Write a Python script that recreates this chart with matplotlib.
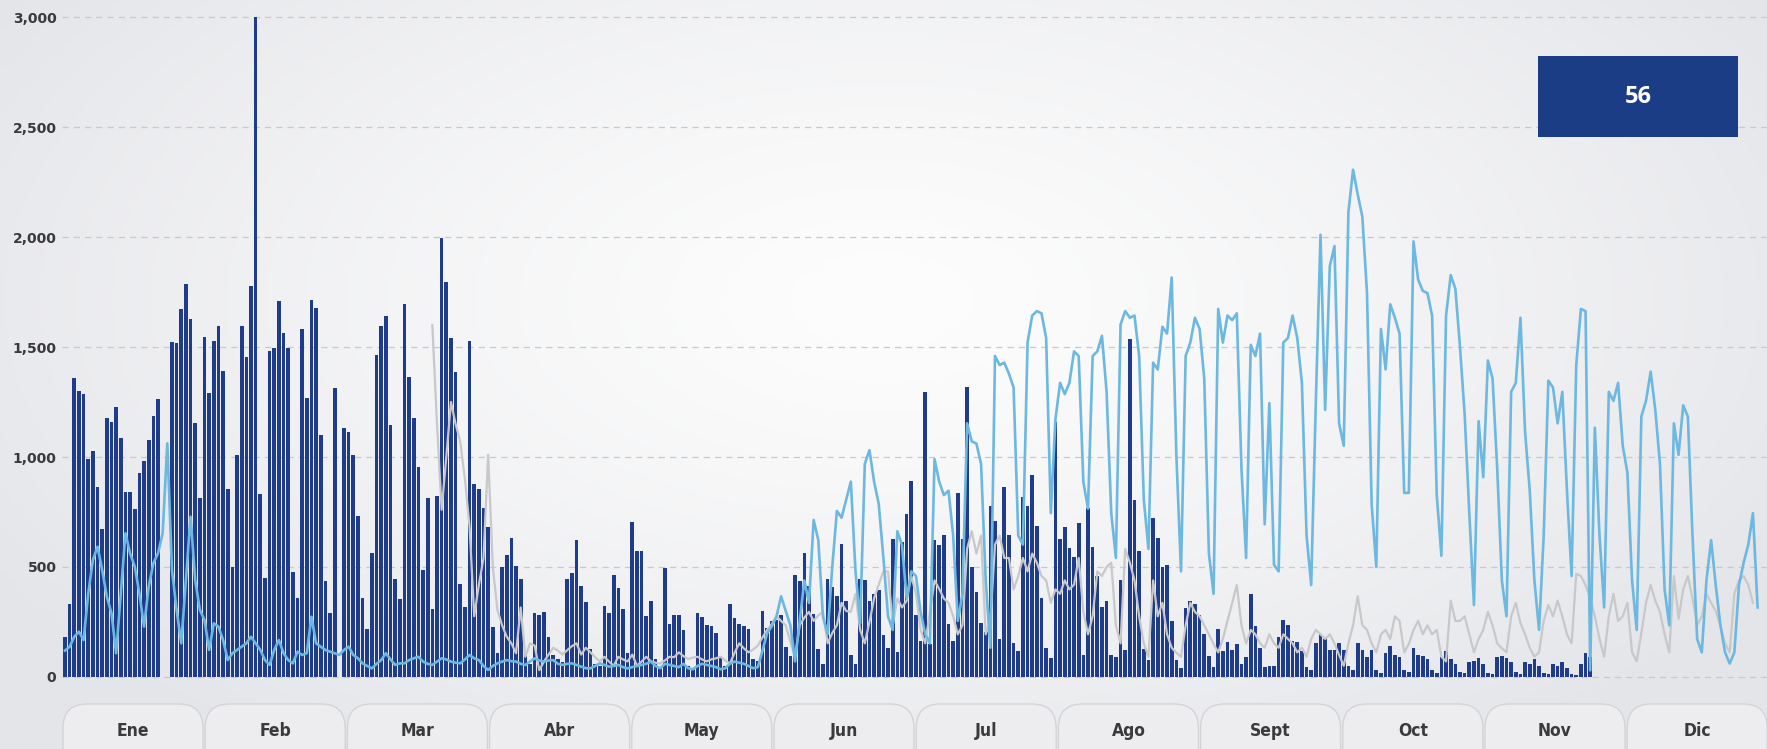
import numpy as np
import matplotlib as mpl

mpl.use("Agg")
import matplotlib.pyplot as plt
from matplotlib.patches import FancyBboxPatch, Rectangle

W, H = 1767, 749
DPI = 100

MONTHS = ["Ene", "Feb", "Mar", "Abr", "May", "Jun",
          "Jul", "Ago", "Sept", "Oct", "Nov", "Dic"]
Y_TICKS = [0, 500, 1000, 1500, 2000, 2500, 3000]
BADGE_TEXT = "56"

# daily bars, day 0 = 1 Jan
DAILY_BARS = [
    183, 330, 1358, 1302, 1286, 991, 1029, 865, 671, 1176, 1161, 1226, 1088, 839, 839, 764, 926, 982, 1077, 1186, 1265,
    0, 0,
    1524, 1520, 1671, 1785, 1627, 1153, 815, 1544, 1289, 1527, 1595, 1391, 853, 498, 1009, 1597, 1453, 1779, 3000, 832,
    448, 1483, 1497, 1711, 1562, 1497, 476, 361, 1580, 1267, 1714, 1676, 1100, 436, 289, 1315,
    0,
    1133, 1112, 1009, 733, 361, 217, 562, 1464, 1597, 1641, 1145, 445, 355, 1694, 1365, 1176, 956, 486, 815, 308,
    824, 1995, 1794, 1539, 1385, 421, 320, 1527, 877, 853, 767, 683, 229, 108, 502, 555, 630, 506, 445, 115,
    60, 289, 282, 297, 183, 100, 80, 70, 445, 474, 623, 414, 339, 126, 60, 50, 323, 289, 464, 403, 308, 108, 703, 573,
    571, 276, 347, 82, 40, 496, 241, 280, 280, 214, 51, 40, 292, 271, 235, 231, 198, 88, 51, 331, 269, 239, 231, 218,
    82, 71, 302, 224, 255, 259, 280, 137, 96, 463, 435, 565, 414, 286, 129, 61, 445, 408, 367, 606, 347, 102, 61, 445,
    439, 347, 378, 394, 190, 133,
    627, 112, 612, 739, 892, 280, 163, 1296, 149, 622, 598, 647, 239, 163, 837, 627, 1316, 500, 388, 245, 204, 776,
    708, 173, 863, 647, 153, 118, 816, 776, 918, 688, 361, 133, 88, 1157, 627, 684, 586, 547, 700, 102, 769, 592, 459,
    320, 347, 102, 92,
    443, 122, 1537, 806, 571, 129, 76, 724, 633, 500, 510, 255, 76, 41, 312, 347, 333, 280, 194, 96, 47, 218, 116, 159,
    122, 149, 61, 92, 378, 231, 133, 47, 51, 51, 184, 259, 235, 163, 159, 116, 47, 31, 153, 194, 173, 122, 122,
    153, 122, 51, 31, 153, 122, 92, 122, 31, 20, 110, 140, 100, 90, 30, 25, 130, 100, 95, 80, 30, 20, 90, 120, 80, 60,
    25, 20, 70, 75, 85, 60, 20, 15, 90, 95, 85, 70, 25, 15, 70, 60, 80, 50, 20, 15, 60, 50, 70, 40, 15, 10, 60, 110, 90,
]

# light blue line, full year
LIGHT_LINE = [
    120, 138, 183, 206, 168, 380, 532, 592, 486, 365, 289, 108, 380, 653, 562, 502, 380, 229, 411, 517, 562, 653,
    1062, 486, 305, 153, 441, 729, 441, 305, 259, 123, 244, 229, 168, 77, 108, 123, 138, 153, 183, 153, 123, 77, 55,
    123, 168, 108, 77, 62, 115, 100, 108, 274, 153, 138, 123, 115, 108, 100, 123,
    138, 100, 85, 62, 50, 39, 60, 77, 108, 80, 55, 62, 62, 77, 85, 92, 70, 60, 55, 70, 85, 80, 70, 65, 62, 80, 100,
    85, 77, 50, 32, 50, 62, 70, 77, 72, 70, 60, 55, 70, 85, 75, 70, 75, 77, 60, 55, 60, 62, 55, 47, 40, 39, 50, 62,
    55, 47, 50, 55, 45, 39, 45, 50,
    55, 60, 70, 50, 40, 60, 55, 50, 45, 60, 40, 35, 50, 60, 55, 50, 45, 35, 40, 60, 70, 65, 60, 50, 40, 45, 120,
    200, 230, 275, 367, 300, 235, 71, 255, 439, 337, 714, 622, 275, 194, 500, 755, 724, 806, 888, 480, 245, 969,
    1031, 888, 786, 541, 275, 214,
    663, 600, 357, 480, 459, 296, 194, 153, 990, 888, 827, 847, 643, 255, 378, 1153, 1071, 1061, 969, 439, 133, 1459,
    1418, 1429, 1378, 1316, 643, 602, 1520, 1643, 1663, 1653, 1541, 745, 1173, 1337, 1286, 1337, 1480, 1459, 888, 765,
    1459, 1480, 1551,
    1296, 745, 541, 1602, 1663, 1633, 1643, 1459, 806, 582, 1429, 1398, 1592, 1561, 1816, 1010, 480, 1459, 1520, 1633,
    1582, 1357, 561, 378, 1673, 1520, 1643, 1622, 1653, 949, 541, 1510, 1459, 1561, 694, 1245, 510, 480, 1520, 1541,
    1643, 1541, 1337, 643, 418, 1255, 2010, 1214, 1867, 1959,
    1153, 1051, 2112, 2306, 2194, 2092, 1745, 786, 500, 1582, 1398, 1694, 1633, 1561, 837, 837, 1980, 1806, 1755, 1745,
    1643, 827, 551, 1643, 1827, 1765, 1500, 1194, 745, 327, 1163, 908, 1439, 1357, 949, 439, 276, 1296, 1337, 1633,
    1112, 847, 439, 214, 643, 1347, 1316, 1153,
    1296, 847, 459, 1418, 1673, 1663, 30, 1133, 643, 316, 1296, 1255, 1337, 1051, 929, 439, 214, 1184, 1255, 1388,
    1214, 969, 398, 235, 1153, 1010, 1235, 1184, 643, 173, 112, 439, 622, 418, 235, 112, 61, 112, 418, 520, 602, 745,
    316,
]

# grey line starts in late March
GRAY_START_DAY = 79
GRAY_LINE = [
    1600, 1150, 760, 1000, 1250, 1150, 1070, 900, 684, 276, 418, 541, 1010, 500, 305, 235, 183, 153, 108, 316,
    92, 153, 143, 31, 70, 102, 133, 120, 102, 122, 140, 153, 102, 133, 112, 90, 71, 92, 70, 51, 92, 80, 71, 102, 51,
    70, 92, 71, 65, 61, 75, 92,
    90, 112, 95, 82, 88, 92, 80, 71, 80, 85, 92, 75, 61, 110, 153, 130, 112, 125, 143, 180, 214, 240, 276, 255, 235,
    160, 92, 235, 270, 296, 255, 280, 296, 153, 200, 235, 337, 300, 296, 378, 214, 153, 250, 357, 420,
    480, 480, 235, 357, 316, 347, 459, 378, 214, 153, 296, 439, 400, 357, 337, 276, 194, 235, 582, 663, 561, 643, 194,
    255, 602, 643, 541, 541, 398, 459, 541, 480, 561, 520, 459, 439, 337, 398, 378, 439, 398, 420, 541, 296, 194, 276,
    480, 459,
    500, 520, 235, 153, 582, 520, 439, 276, 153, 92, 439, 276, 337, 194, 133, 110, 92, 235, 337, 296, 276, 235, 194,
    150, 112, 173, 255, 337, 418, 235, 153, 214, 194, 153, 133, 194, 153, 133, 194, 173, 153, 112, 133, 92, 173, 214,
    194, 173,
    194, 153, 100, 51, 153, 235, 367, 235, 214, 153, 112, 194, 214, 173, 276, 255, 112, 150, 214, 255, 194, 235, 194,
    214, 92, 71, 347, 255, 255, 276, 194, 112, 173, 214, 296, 235, 153, 130, 112, 276, 337, 245, 194, 133, 92, 112,
    255, 327, 276,
    347, 276, 194, 153, 469, 459, 418, 357, 276, 173, 92, 276, 378, 255, 276, 337, 112, 71, 200, 337, 418, 347, 296,
    194, 112, 459, 265, 398, 459, 357, 235, 276, 378, 337, 300, 235, 153, 112, 378, 439, 459, 418, 337,
]

NAVY = "#1f3c8a"
SKY = "#6cb8e0"
GREY = "#c8c8ca"
BADGE_BLUE = "#1b3d86"
TEXT_DARK = "#3a3a3c"

# layout in pixels of the output image
AX_LEFT, AX_RIGHT = 62, W
AX_TOP, AX_BOTTOM = 12, 690
DAY0_X, DAY_PX = 65, 4.65
Y0_PX, Y3000_PX = 677, 17


def draw_background(fig):
    """Soft radial gradient behind everything."""
    bg = fig.add_axes([0, 0, 1, 1], zorder=-10)
    yy, xx = np.mgrid[0:H:4, 0:W:4]
    r = np.sqrt(((xx - 880) / 1050.0) ** 2 + ((yy - 300) / 560.0) ** 2)
    t = np.clip(r, 0, 1) ** 1.3
    centre = np.array([253, 253, 253]) / 255.0
    edge = np.array([228, 229, 233]) / 255.0
    img = centre[None, None, :] + (edge - centre)[None, None, :] * t[..., None]
    bg.imshow(img, extent=[0, W, H, 0], aspect="auto", interpolation="bilinear")
    bg.set_xlim(0, W)
    bg.set_ylim(H, 0)
    bg.axis("off")


def draw_chart(fig):
    ax = fig.add_axes([AX_LEFT / W, 1 - AX_BOTTOM / H,
                       (AX_RIGHT - AX_LEFT) / W, (AX_BOTTOM - AX_TOP) / H])
    ax.patch.set_alpha(0)

    units_per_px = 3000 / (Y0_PX - Y3000_PX)
    ax.set_ylim(-(AX_BOTTOM - Y0_PX) * units_per_px, 3000 + (Y3000_PX - AX_TOP) * units_per_px)
    ax.set_xlim(-(DAY0_X - AX_LEFT) / DAY_PX, (AX_RIGHT - DAY0_X) / DAY_PX)

    bar_days = np.arange(len(DAILY_BARS))
    ax.bar(bar_days, DAILY_BARS, width=0.78, color=NAVY, linewidth=0, zorder=2)

    gray_days = np.arange(GRAY_START_DAY, GRAY_START_DAY + len(GRAY_LINE))
    ax.plot(gray_days, GRAY_LINE, color=GREY, lw=1.6, zorder=3, solid_joinstyle="round")

    light_days = np.arange(len(LIGHT_LINE))
    ax.plot(light_days, LIGHT_LINE, color=SKY, lw=1.9, zorder=4, solid_joinstyle="round")

    ax.set_yticks(Y_TICKS)
    ax.set_yticklabels([f"{v:,}" for v in Y_TICKS], fontsize=10, fontweight="bold", color=TEXT_DARK)
    ax.set_xticks([])
    ax.tick_params(axis="y", length=0, pad=4)
    ax.grid(axis="y", color="#c9c9cc", linestyle=(0, (5, 4)), linewidth=0.9)
    ax.set_axisbelow(True)
    for s in ax.spines.values():
        s.set_visible(False)
    return ax


def draw_overlay(fig):
    """Month pills along the bottom and the badge top right, in pixel coords."""
    ov = fig.add_axes([0, 0, 1, 1], zorder=5)
    ov.set_xlim(0, W)
    ov.set_ylim(H, 0)
    ov.axis("off")

    pill_w, pill_step = 140, 142.2
    for k, name in enumerate(MONTHS):
        x0 = 63 + k * pill_step
        pill = FancyBboxPatch((x0, 704), pill_w, 90,
                              boxstyle="round,pad=0,rounding_size=24",
                              facecolor="#ededf0", edgecolor="#d4d4d8", linewidth=1.0,
                              mutation_aspect=1, clip_on=False)
        ov.add_patch(pill)
        ov.text(x0 + pill_w / 2, 731, name, ha="center", va="center", fontsize=12.5,
                fontweight="bold", fontstretch="condensed", color=TEXT_DARK,
                family="DejaVu Sans")

    ov.add_patch(Rectangle((1538, 56), 200, 81, facecolor=BADGE_BLUE, edgecolor="none"))
    ov.text(1638, 97, BADGE_TEXT, ha="center", va="center", fontsize=17,
            fontweight="bold", color="white", family=["Open Sans", "DejaVu Sans"])


def main():
    fig = plt.figure(figsize=(W / DPI, H / DPI), dpi=DPI)
    draw_background(fig)
    draw_chart(fig)
    draw_overlay(fig)
    fig.savefig("out.png", dpi=DPI)
    plt.close(fig)


if __name__ == "__main__":
    main()
